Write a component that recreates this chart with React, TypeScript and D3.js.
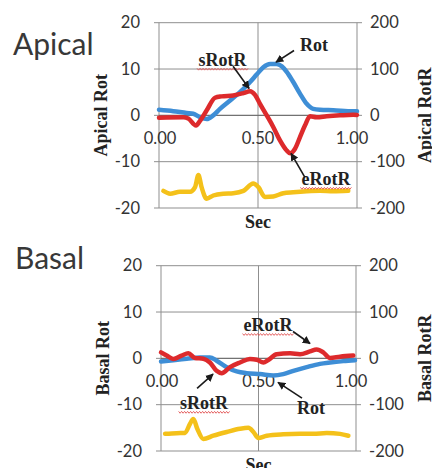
import React from "react";
import * as d3 from "d3";

// ---------- data ----------
const leftTicks = [20, 10, 0, -10, -20];
const rightTicks = [200, 100, 0, -100, -200];
const xTicks = [0, 0.5, 1];
const xTickLabels = ["0.00", "0.50", "1.00"];

// Apical rotation (deg), left axis
const apicalRot: [number, number][] = [
  [0, 1.2], [0.072, 0.9], [0.14, 0.5], [0.173, 0.35], [0.207, -0.4], [0.241, -0.8],
  [0.274, 0], [0.308, 1.4], [0.359, 3.2], [0.409, 5.0], [0.46, 7.2], [0.493, 8.8],
  [0.527, 10.4], [0.561, 11.1], [0.594, 11.1], [0.62, 10.6], [0.645, 9.4], [0.678, 7.2],
  [0.712, 4.7], [0.746, 2.5], [0.779, 1.4], [0.813, 1.2], [0.88, 1.1], [0.981, 0.9], [1, 0.9],
];
// Apical rotation rate (deg/s), right axis
const apicalRotR: [number, number][] = [
  [0, -5], [0.123, -4], [0.148, -7], [0.187, -22], [0.207, -12], [0.241, 11],
  [0.283, 38], [0.316, 41], [0.375, 43], [0.426, 48], [0.46, 52], [0.485, 44],
  [0.51, 25], [0.544, 0], [0.577, -25], [0.611, -54], [0.645, -76], [0.662, -82],
  [0.687, -72], [0.712, -47], [0.737, -22], [0.763, -2], [0.796, -4], [0.847, -2],
  [0.914, 0], [0.981, 1.4], [1, 1],
];
// Apical ECG trace, right axis
const apicalEcg: [number, number][] = [
  [0.022, -163], [0.056, -169], [0.106, -165], [0.157, -165], [0.182, -155], [0.199, -129],
  [0.215, -155], [0.241, -180], [0.274, -173], [0.325, -169], [0.375, -168], [0.426, -163],
  [0.476, -147], [0.502, -155], [0.535, -176], [0.577, -175], [0.628, -168], [0.678, -166],
  [0.746, -164], [0.813, -163], [0.88, -164], [0.956, -163],
];

// Basal rotation (deg), left axis
const basalRot: [number, number][] = [
  [0, -0.7], [0.063, -0.4], [0.132, -0.1], [0.2, 0.2], [0.251, 0.2], [0.285, -0.5],
  [0.337, -1.9], [0.388, -2.8], [0.439, -3.2], [0.508, -3.4], [0.576, -3.7], [0.627, -3.4],
  [0.679, -2.7], [0.747, -1.9], [0.815, -1.2], [0.867, -0.9], [0.935, -0.6], [0.995, -0.4],
];
// Basal rotation rate (deg/s), right axis
const basalRotR: [number, number][] = [
  [0, 13], [0.029, 6], [0.063, -1.4], [0.106, 6], [0.14, 11], [0.174, 0.7], [0.217, -0.7],
  [0.251, -9], [0.285, -27], [0.311, -32], [0.354, -19], [0.405, -9], [0.456, -1.4],
  [0.491, -3], [0.525, -9], [0.55, -3.6], [0.593, 9], [0.662, 11], [0.713, 9], [0.764, 15],
  [0.798, 19], [0.832, 13], [0.867, 0.7], [0.918, 3.6], [0.986, 6],
];
// Basal ECG trace, right axis
const basalEcg: [number, number][] = [
  [0.021, -163], [0.08, -161.5], [0.123, -161], [0.149, -141], [0.166, -131], [0.186, -152],
  [0.217, -174], [0.268, -167], [0.337, -159], [0.405, -152], [0.448, -150], [0.474, -159],
  [0.499, -172], [0.542, -167], [0.627, -164], [0.713, -163], [0.781, -163], [0.85, -161],
  [0.918, -163], [0.961, -167],
];

// annotations in data units (t, left-axis value)
type Ann = { text: string; at: [number, number]; from: [number, number]; to: [number, number]; squiggle: boolean };
const apicalAnns: Ann[] = [
  { text: "Rot", at: [0.783, 13.8], from: [0.682, 14.0], to: [0.591, 11.5], squiggle: false },
  { text: "sRotR", at: [0.321, 10.6], from: [0.374, 10.6], to: [0.455, 5.8], squiggle: true },
  { text: "eRotR", at: [0.843, -15.1], from: [0.737, -13.4], to: [0.667, -8.2], squiggle: true },
];
const basalAnns: Ann[] = [
  { text: "eRotR", at: [0.549, 5.8], from: [0.677, 5.8], to: [0.764, 3.2], squiggle: true },
  { text: "sRotR", at: [0.221, -11.0], from: [0.185, -6.5], to: [0.267, -3.4], squiggle: true },
  { text: "Rot", at: [0.769, -12.1], from: [0.723, -8.6], to: [0.6, -5.2], squiggle: false },
];

// ---------- styling ----------
const BLUE = "#3e8ed6";
const RED = "#dd2a2c";
const YELLOW = "#f4c11a";
const GRID = "#8f8f8f";
const SANS = "Lato, 'Noto Sans', sans-serif";
const SERIF = "'Liberation Serif', 'Times New Roman', serif";

type PanelProps = {
  title: string;
  leftTitle: string;
  rightTitle: string;
  rot: [number, number][];
  rotR: [number, number][];
  ecg: [number, number][];
  anns: Ann[];
  x0: number; x1: number; yTop: number; yBot: number;
  titleY: number; titleX: number;
};

function squigglePath(cx: number, y: number, w: number) {
  const pts: [number, number][] = [];
  const step = 1.5;
  let i = 0;
  for (let x = cx - w / 2; x <= cx + w / 2; x += step, i++) {
    pts.push([x, y + (i % 2 === 0 ? -0.9 : 0.9)]);
  }
  return d3.line()(pts) || "";
}

function Panel(p: PanelProps) {
  const x = d3.scaleLinear().domain([0, 1]).range([p.x0, p.x1]);
  const yL = d3.scaleLinear().domain([-20, 20]).range([p.yBot, p.yTop]);
  const yR = d3.scaleLinear().domain([-200, 200]).range([p.yBot, p.yTop]);
  const lineL = d3.line<[number, number]>().x(d => x(d[0])).y(d => yL(d[1])).curve(d3.curveMonotoneX);
  const lineR = d3.line<[number, number]>().x(d => x(d[0])).y(d => yR(d[1])).curve(d3.curveMonotoneX);
  const y0 = yL(0);
  const midY = (p.yTop + p.yBot) / 2;
  return (
    <g>
      <text x={p.titleX} y={p.titleY} fontFamily={SANS} fontSize={30} fill="#383838">{p.title}</text>
      {/* grid */}
      {leftTicks.map(v => (
        <line key={"h" + v} x1={p.x0 - 5} x2={p.x1 + 5} y1={yL(v)} y2={yL(v)} stroke={GRID} strokeWidth={1} />
      ))}
      {xTicks.map(t => (
        <line key={"v" + t} x1={x(t)} x2={x(t)} y1={p.yTop} y2={p.yBot} stroke={GRID} strokeWidth={1} />
      ))}
      <line x1={p.x0} x2={p.x1} y1={y0} y2={y0} stroke="#6a6a6a" strokeWidth={1} />
      {/* left ticks */}
      {leftTicks.map(v => (
        <text key={"lt" + v} x={p.x0 - 19} y={yL(v)} dy="0.35em" textAnchor="end" fontFamily={SANS} fontSize={16.5} fill="#333">{v}</text>
      ))}
      {rightTicks.map(v => (
        <text key={"rt" + v} x={p.x1 + 13} y={yR(v)} dy="0.35em" textAnchor="start" fontFamily={SANS} fontSize={16.5} fill="#333">{v}</text>
      ))}
      {xTicks.map((t, i) => (
        <text key={"xt" + t} x={x(t) - (i === 2 ? 5 : i === 0 ? -1 : 0)} y={y0 + 23} dy="0.35em" textAnchor="middle" fontFamily={SANS} fontSize={16.5} fill="#333">{xTickLabels[i]}</text>
      ))}
      {/* axis titles */}
      <text transform={`translate(${p.x0 - 52},${midY}) rotate(-90)`} textAnchor="middle" fontFamily={SERIF} fontWeight="bold" fontSize={18} fill="#222">{p.leftTitle}</text>
      <text transform={`translate(431,${midY}) rotate(-90)`} textAnchor="middle" fontFamily={SERIF} fontWeight="bold" fontSize={18} fill="#222">{p.rightTitle}</text>
      <text x={x(0.5)} y={p.yBot + 20} textAnchor="middle" fontFamily={SERIF} fontWeight="bold" fontSize={18} fill="#222">Sec</text>
      {/* series */}
      <path d={lineR(p.ecg) || ""} fill="none" stroke={YELLOW} strokeWidth={4.5} strokeLinejoin="round" strokeLinecap="round" />
      <path d={lineL(p.rot) || ""} fill="none" stroke={BLUE} strokeWidth={4.5} strokeLinejoin="round" strokeLinecap="round" />
      <path d={lineR(p.rotR) || ""} fill="none" stroke={RED} strokeWidth={4.5} strokeLinejoin="round" strokeLinecap="round" />
      {/* annotations */}
      {p.anns.map((a, i) => {
        const tx = x(a.at[0]);
        const ty = yL(a.at[1]);
        const w = a.text.length * 10.2;
        return (
          <g key={"a" + i}>
            <text x={tx} y={ty} textAnchor="middle" fontFamily={SERIF} fontWeight="bold" fontSize={18} fill="#222">{a.text}</text>
            {a.squiggle && <path d={squigglePath(tx, ty + 3, w)} fill="none" stroke="#e04040" strokeWidth={0.8} />}
            <line x1={x(a.from[0])} y1={yL(a.from[1])} x2={x(a.to[0])} y2={yL(a.to[1])} stroke="#1a1a1a" strokeWidth={1.6} markerEnd="url(#arrowHead)" />
          </g>
        );
      })}
    </g>
  );
}

export default function App() {
  return (
    <svg width={432} height={468} viewBox="0 0 432 468" style={{ position: "absolute", left: 0, top: 0, background: "#fff" }}>
      <defs>
        <marker id="arrowHead" viewBox="0 0 10 10" refX={9} refY={5} markerWidth={5} markerHeight={5} orient="auto" markerUnits="strokeWidth">
          <path d="M0,0 L10,5 L0,10 z" fill="#1a1a1a" />
        </marker>
      </defs>
      <rect x={0} y={0} width={432} height={468} fill="#fff" />
      <Panel title="Apical" leftTitle="Apical Rot" rightTitle="Apical RotR" rot={apicalRot} rotR={apicalRotR} ecg={apicalEcg} anns={apicalAnns}
        x0={159} x1={357} yTop={22.7} yBot={208} titleX={13} titleY={55} />
      <Panel title="Basal" leftTitle="Basal Rot" rightTitle="Basal RotR" rot={basalRot} rotR={basalRotR} ecg={basalEcg} anns={basalAnns}
        x0={161} x1={356} yTop={265.7} yBot={451} titleX={15} titleY={269} />
    </svg>
  );
}
